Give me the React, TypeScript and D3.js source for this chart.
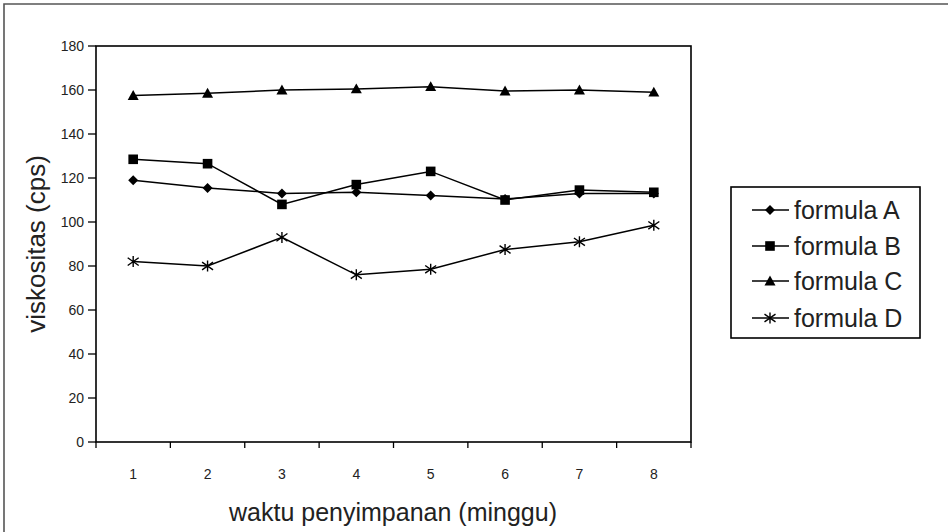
import React from "react";
import * as d3 from "d3";

const WIDTH = 948;
const HEIGHT = 532;

// minggu ke-
const weeks = ["1", "2", "3", "4", "5", "6", "7", "8"];
const yTicks = [0, 20, 40, 60, 80, 100, 120, 140, 160, 180];

const formulaA = [119, 115.5, 113, 113.5, 112, 110.5, 113, 113];
const formulaB = [128.5, 126.5, 108, 117, 123, 110, 114.5, 113.5];
const formulaC = [157.5, 158.5, 160, 160.5, 161.5, 159.5, 160, 159];
const formulaD = [82, 80, 93, 76, 78.5, 87.5, 91, 98.5];

const seriesNames = ["formula A", "formula B", "formula C", "formula D"];
const markers = ["diamond", "square", "triangle", "asterisk"];

const margin = { left: 96, top: 46, right: 691, bottom: 442 };
const FONT = "'Liberation Sans', Arial, sans-serif";
const TEXT = "#222";

const Marker = ({ kind, x, y }: { kind: string; x: number; y: number }) => {
  if (kind === "diamond") {
    const s = 5;
    return (
      <path
        d={`M${x},${y - s}L${x + s},${y}L${x},${y + s}L${x - s},${y}Z`}
        fill="#000"
      />
    );
  }
  if (kind === "square") {
    const s = 4.8;
    return <rect x={x - s} y={y - s} width={s * 2} height={s * 2} fill="#000" />;
  }
  if (kind === "triangle") {
    const s = 5.5;
    return (
      <path
        d={`M${x},${y - s}L${x + s},${y + s * 0.8}L${x - s},${y + s * 0.8}Z`}
        fill="#000"
      />
    );
  }
  const s = 5.5;
  return (
    <path
      d={`M${x},${y - s}V${y + s}M${x - s},${y - s * 0.7}L${x + s},${y + s * 0.7}M${x - s},${y + s * 0.7}L${x + s},${y - s * 0.7}`}
      stroke="#000"
      strokeWidth={1.4}
      fill="none"
    />
  );
};

export default function App() {
  const x = d3
    .scaleBand<string>()
    .domain(weeks)
    .range([margin.left, margin.right]);
  const y = d3
    .scaleLinear()
    .domain([0, 180])
    .range([margin.bottom, margin.top]);

  const data = [formulaA, formulaB, formulaC, formulaD];
  const cx = (w: string) => (x(w) || 0) + x.bandwidth() / 2;

  const line = d3
    .line<number>()
    .x((_, i) => cx(weeks[i]))
    .y((d) => y(d));

  const legendX = 731;
  const legendY = 187;
  const legendRows = [210, 246, 281, 318];

  return (
    <svg
      width={WIDTH}
      height={HEIGHT}
      style={{ position: "absolute", left: 0, top: 0, background: "#fff" }}
      fontFamily={FONT}
    >
      <rect width={WIDTH} height={HEIGHT} fill="#fff" />
      {/* outer frame, only top and left visible */}
      <path d={`M4,${HEIGHT}V4H${WIDTH}`} stroke="#555" strokeWidth={1.6} fill="none" />

      {/* plot frame */}
      <rect
        x={margin.left}
        y={margin.top}
        width={margin.right - margin.left}
        height={margin.bottom - margin.top}
        fill="none"
        stroke="#000"
        strokeWidth={1.6}
      />

      {/* y axis */}
      {yTicks.map((t) => (
        <g key={t}>
          <line x1={88} x2={margin.left} y1={y(t)} y2={y(t)} stroke="#000" strokeWidth={1.3} />
          <text x={84} y={y(t)} dy="0.35em" textAnchor="end" fontSize={14} fill={TEXT}>
            {t}
          </text>
        </g>
      ))}

      {/* x axis */}
      {[...weeks.map((w) => x(w) || 0), margin.right].map((px, i) => (
        <line
          key={i}
          x1={px}
          x2={px}
          y1={margin.bottom}
          y2={margin.bottom + 6}
          stroke="#000"
          strokeWidth={1.3}
        />
      ))}
      {weeks.map((w) => (
        <text key={w} x={cx(w)} y={479} textAnchor="middle" fontSize={14} fill={TEXT}>
          {w}
        </text>
      ))}

      <text x={393} y={521} textAnchor="middle" fontSize={25} fill={TEXT}>
        waktu penyimpanan (minggu)
      </text>
      <text
        transform={`translate(45,${(margin.top + margin.bottom) / 2}) rotate(-90)`}
        textAnchor="middle"
        fontSize={26}
        fill={TEXT}
      >
        viskositas (cps)
      </text>

      {/* series */}
      {data.map((s, k) => (
        <g key={seriesNames[k]}>
          <path d={line(s) || ""} fill="none" stroke="#000" strokeWidth={1.5} />
          {s.map((v, i) => (
            <Marker key={i} kind={markers[k]} x={cx(weeks[i])} y={y(v)} />
          ))}
        </g>
      ))}

      {/* legend */}
      <rect
        x={legendX}
        y={legendY}
        width={920 - legendX}
        height={338 - legendY}
        fill="#fff"
        stroke="#000"
        strokeWidth={1.6}
      />
      {seriesNames.map((name, k) => (
        <g key={name}>
          <line x1={752} x2={789} y1={legendRows[k]} y2={legendRows[k]} stroke="#000" strokeWidth={1.5} />
          <Marker kind={markers[k]} x={770} y={legendRows[k]} />
          <text x={794} y={legendRows[k]} dy="0.35em" fontSize={25} fill={TEXT}>
            {name}
          </text>
        </g>
      ))}
    </svg>
  );
}
